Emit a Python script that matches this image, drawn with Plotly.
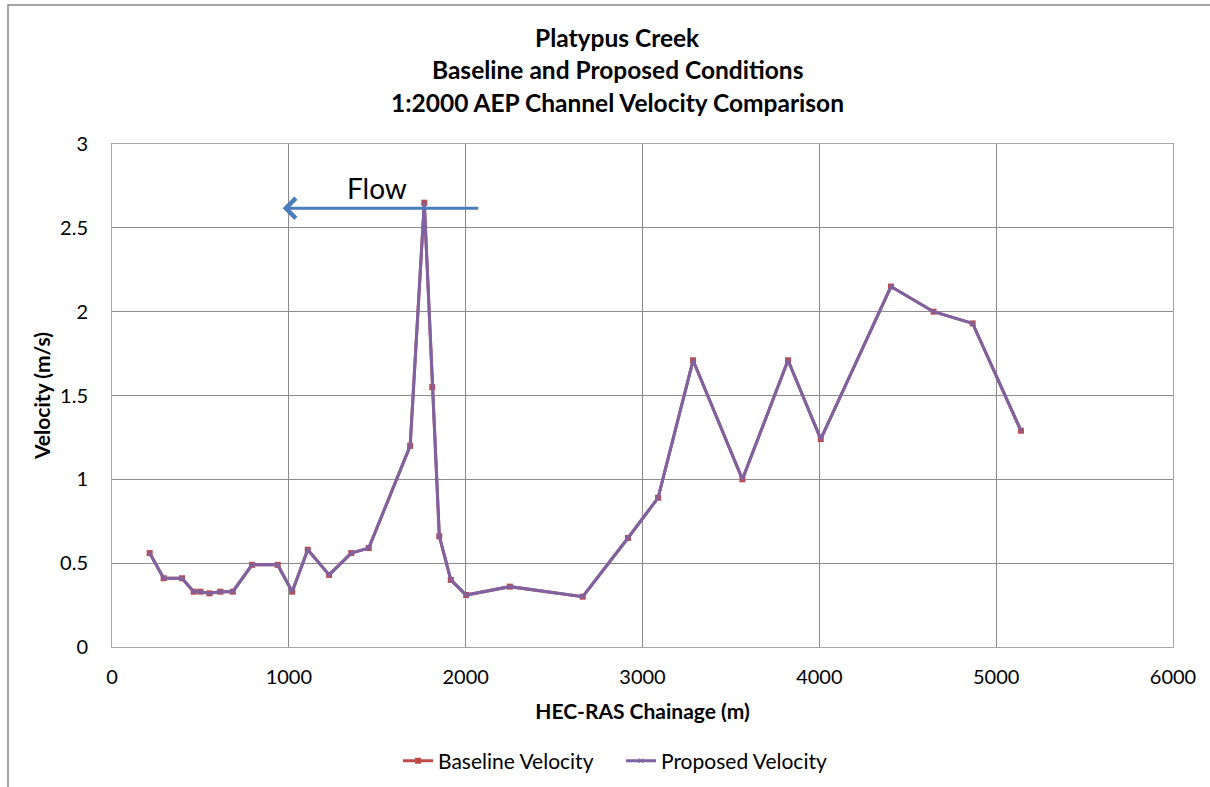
import plotly.graph_objects as go

# chainage (m) and velocity (m/s)
chainage = [213, 292, 396, 462, 500, 551, 613, 683, 792, 937, 1019, 1107, 1228,
            1353, 1452, 1686, 1766, 1811, 1851, 1916, 2003, 2250, 2662, 2918,
            3088, 3286, 3565, 3823, 4008, 4405, 4646, 4867, 5140]
baseline_vel = [0.56, 0.41, 0.41, 0.33, 0.33, 0.32, 0.33, 0.33, 0.49, 0.49, 0.33,
                0.58, 0.43, 0.56, 0.59, 1.20, 2.65, 1.55, 0.66, 0.40, 0.31, 0.36,
                0.30, 0.65, 0.89, 1.71, 1.00, 1.71, 1.24, 2.15, 2.00, 1.93, 1.29]
proposed_vel = list(baseline_vel)

title_lines = ["Platypus Creek", "Baseline and Proposed Conditions",
               "1:2000 AEP Channel Velocity Comparison"]

FONT = "Lato"
RED = "#BE4B48"
PURPLE = "#7E62A1"
GRID = "#8C8C8C"

fig = go.Figure()
fig.add_trace(go.Scatter(
    x=chainage, y=baseline_vel, mode="lines+markers", name="Baseline Velocity",
    line=dict(color=RED, width=3),
    marker=dict(symbol="square", size=6, color=RED)))
fig.add_trace(go.Scatter(
    x=chainage, y=proposed_vel, mode="lines+markers", name="Proposed Velocity",
    line=dict(color=PURPLE, width=3),
    marker=dict(symbol="x-thin", size=5, color=PURPLE,
                line=dict(color=PURPLE, width=1))))

axis_common = dict(showline=True, linecolor="#A6A6A6", linewidth=1, mirror=True,
                   showgrid=True, gridcolor=GRID, gridwidth=1, zeroline=False,
                   automargin=False,
                   ticks="outside", tickcolor="rgba(0,0,0,0)",
                   tickfont=dict(family=FONT, size=20, color="#000000"))

fig.update_xaxes(range=[0, 6000], dtick=1000, ticklen=12,
                 title=dict(text="<b>HEC-RAS Chainage (m)</b>",
                            font=dict(family=FONT, size=21, color="#000000"),
                            standoff=17),
                 **axis_common)
fig.update_yaxes(range=[0, 3], dtick=0.5, ticklen=19,
                 title=dict(text="<b>Velocity (m/s)</b>",
                            font=dict(family=FONT, size=21, color="#000000"),
                            standoff=3),
                 **axis_common)

annotations = []
for i, line in enumerate(title_lines):
    annotations.append(dict(
        text="<b>%s</b>" % line, xref="paper", yref="paper",
        x=(617 - 112) / 1061, y=(647 - (37 + i * 32.5)) / 503,
        showarrow=False, xanchor="center", yanchor="middle",
        font=dict(family=FONT, size=24.5, color="#000000")))

# flow direction arrow
annotations.append(dict(
    x=965, y=2.617, ax=2080, ay=2.617, xref="x", yref="y", axref="x", ayref="y",
    text="", showarrow=True, arrowhead=4, arrowsize=1.3, arrowwidth=3,
    arrowcolor="#4A7EBB"))
annotations.append(dict(
    x=1501, y=2.74, xref="x", yref="y", text="Flow", showarrow=False,
    font=dict(family=FONT, size=28, color="#000000")))

# figure is a bit taller than the window so the legend never pushes the margins;
# the outer frame runs off the right and bottom edges like the original
fig.update_layout(
    width=1210, height=810,
    margin=dict(l=112, r=37, t=144, b=163),
    paper_bgcolor="white", plot_bgcolor="white",
    font=dict(family=FONT, color="#000000"),
    showlegend=True,
    legend=dict(orientation="h", x=(398 - 112) / 1061, y=(647 - 761) / 503,
                xanchor="left", yanchor="middle",
                font=dict(family=FONT, size=21, color="#000000"),
                itemwidth=30, entrywidth=178, tracegroupgap=0),
    annotations=annotations,
    shapes=[dict(type="rect", xref="paper", yref="paper",
                 x0=(8 - 112) / 1061, x1=1.06, y0=-0.5, y1=(647 - 5) / 503,
                 line=dict(color="#868686", width=1.5), layer="below")],
)

# drop the default body margin so the figure sits at the page origin
fig.write_html("out.html", config={"displayModeBar": False},
               post_script="document.body.style.margin='0';"
                           "document.body.style.overflow='hidden';")
